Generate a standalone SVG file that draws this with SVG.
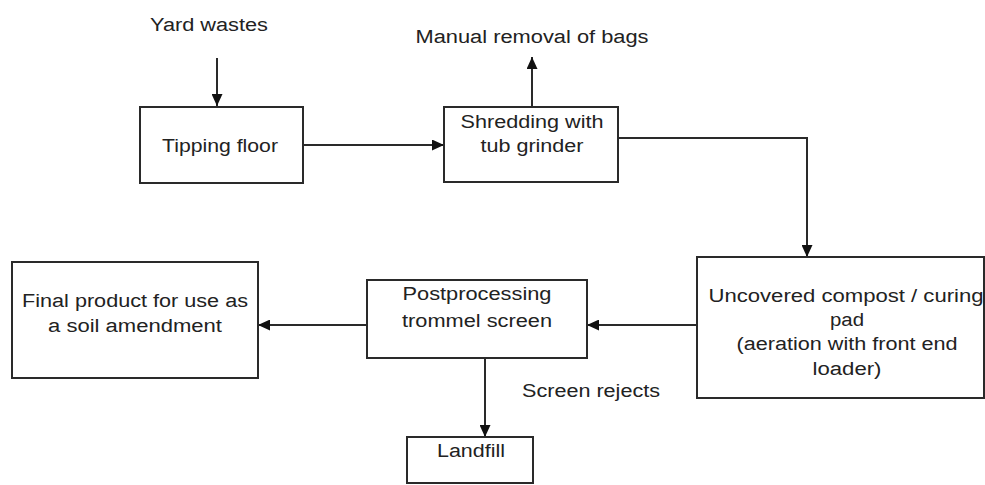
<svg xmlns="http://www.w3.org/2000/svg" width="985" height="485" viewBox="0 0 985 485">
<style>
.box{fill:#fff;stroke:#2a2a2a;stroke-width:2}
.ln{fill:none;stroke:#2a2a2a;stroke-width:2}
text{font-family:"Liberation Sans",Arial,sans-serif;font-size:18px;fill:#222;text-anchor:middle}
</style>
<defs>
<marker id="ah" viewBox="0 0 12 11" refX="12" refY="5.5" markerWidth="12" markerHeight="11" markerUnits="userSpaceOnUse" orient="auto">
<path d="M0,0 L12,5.5 L0,11 Z" fill="#111"/>
</marker>
</defs>
<rect width="985" height="485" fill="#fff"/>
<g id="connectors">
<line class="ln" x1="217" y1="58" x2="217" y2="106" marker-end="url(#ah)"/>
<line class="ln" x1="303" y1="145" x2="444" y2="145" marker-end="url(#ah)"/>
<line class="ln" x1="532" y1="107" x2="532" y2="57" marker-end="url(#ah)"/>
<polyline class="ln" points="618,138 807,138 807,257" marker-end="url(#ah)"/>
<line class="ln" x1="697" y1="325" x2="587" y2="325" marker-end="url(#ah)"/>
<line class="ln" x1="367" y1="325" x2="258" y2="325" marker-end="url(#ah)"/>
<line class="ln" x1="485" y1="358" x2="485" y2="437" marker-end="url(#ah)"/>
</g>
<g id="yard-wastes"><text x="209" y="31" textLength="118" lengthAdjust="spacingAndGlyphs">Yard wastes</text></g>
<g id="tipping-floor">
<rect class="box" x="140" y="107" width="163" height="76"/>
<text x="220" y="152" textLength="116" lengthAdjust="spacingAndGlyphs">Tipping floor</text>
</g>
<g id="manual-removal"><text x="532" y="43" textLength="233" lengthAdjust="spacingAndGlyphs">Manual removal of bags</text></g>
<g id="shredding">
<rect class="box" x="444" y="107" width="174" height="75"/>
<text x="532" y="128" textLength="143" lengthAdjust="spacingAndGlyphs">Shredding with</text>
<text x="532" y="152" textLength="103" lengthAdjust="spacingAndGlyphs">tub grinder</text>
</g>
<g id="compost-pad">
<rect class="box" x="697" y="257" width="287" height="141"/>
<text x="846" y="302" textLength="275" lengthAdjust="spacingAndGlyphs">Uncovered compost  / curing</text>
<text x="847" y="326" textLength="34" lengthAdjust="spacingAndGlyphs">pad</text>
<text x="847" y="350" textLength="221" lengthAdjust="spacingAndGlyphs">(aeration with front end</text>
<text x="847" y="375" textLength="69" lengthAdjust="spacingAndGlyphs">loader)</text>
</g>
<g id="postprocessing">
<rect class="box" x="367" y="280" width="220" height="78"/>
<text x="477" y="300" textLength="149" lengthAdjust="spacingAndGlyphs">Postprocessing</text>
<text x="477" y="327" textLength="150" lengthAdjust="spacingAndGlyphs">trommel screen</text>
</g>
<g id="final-product">
<rect class="box" x="12" y="262" width="246" height="116"/>
<text x="135" y="307" textLength="226" lengthAdjust="spacingAndGlyphs">Final product for use as</text>
<text x="135" y="332" textLength="174" lengthAdjust="spacingAndGlyphs">a soil amendment</text>
</g>
<g id="screen-rejects"><text x="591" y="397" textLength="138" lengthAdjust="spacingAndGlyphs">Screen rejects</text></g>
<g id="landfill">
<rect class="box" x="407" y="437" width="126" height="46"/>
<text x="471" y="457" textLength="68" lengthAdjust="spacingAndGlyphs">Landfill</text>
</g>
</svg>
